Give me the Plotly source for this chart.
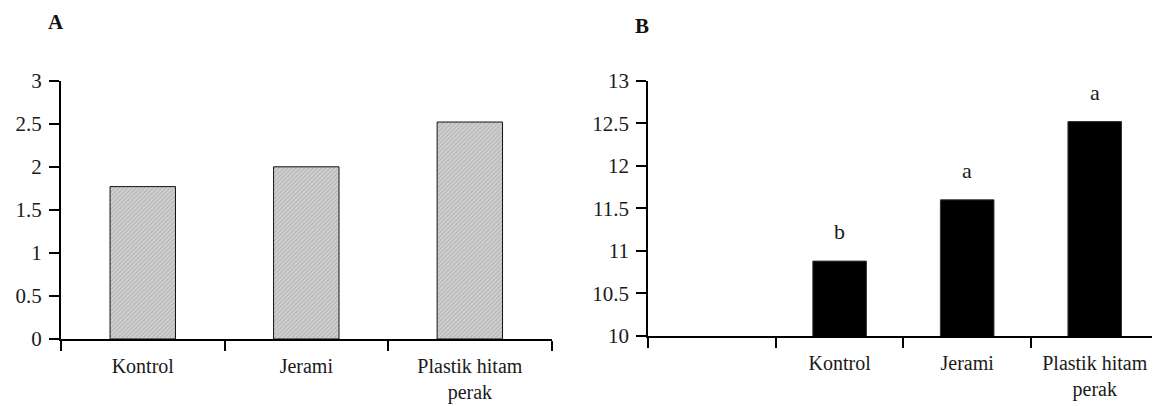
import plotly.graph_objects as go

# ---- data ----
cats_a = ["Kontrol", "Jerami", "Plastik hitam<br>perak"]
vals_a = [1.77, 2.0, 2.52]

cats_b = [" ", "Kontrol", "Jerami", "Plastik hitam<br>perak"]
vals_b = [None, 10.88, 11.6, 12.52]
letters_b = ["", "b", "a", "a"]

yticks_a = [0, 0.5, 1, 1.5, 2, 2.5, 3]
yticks_b = [10, 10.5, 11, 11.5, 12, 12.5, 13]

FONT = "Liberation Serif, Times New Roman, Times, serif"
OFF = 8  # page body margin
W, H = 1160 - OFF, 406 - OFF


def px(x):
    return (x - OFF) / W


def py(y):
    return 1 - (y - OFF) / H


fig = go.Figure()

fig.add_trace(go.Bar(
    x=cats_a, y=vals_a, width=0.40,
    marker=dict(color="#c4c4c4",
                line=dict(color="#111", width=1),
                pattern=dict(shape="/", bgcolor="#d0d0d0", fgcolor="#8c8c8c",
                             size=3, solidity=0.3)),
    xaxis="x", yaxis="y", showlegend=False, hoverinfo="skip"))

fig.add_trace(go.Bar(
    x=cats_b, y=vals_b, width=0.42,
    marker=dict(color="#000000", line=dict(color="#333", width=1)),
    xaxis="x2", yaxis="y2", showlegend=False, hoverinfo="skip"))

axis_common = dict(
    showline=True, linecolor="black", linewidth=2,
    ticks="outside", ticklen=10, tickwidth=2, tickcolor="black",
    showgrid=False, zeroline=False, automargin=False,
)
xfont = dict(family=FONT, size=20, color="#1a1a1a")
yfont = dict(family=FONT, size=21, color="#1a1a1a")

fig.update_layout(
    width=W, height=H,
    margin=dict(l=0, r=0, t=0, b=0, autoexpand=False),
    paper_bgcolor="white", plot_bgcolor="white",
    font=dict(family=FONT, size=20, color="#1a1a1a"),
    xaxis=dict(domain=[px(61), px(551.6)], anchor="y", type="category",
               tickson="boundaries", range=[-0.5, 2.5], tickfont=xfont,
               ticklabelstandoff=8, **axis_common),
    yaxis=dict(domain=[py(339), py(80.7)], anchor="x",
               range=[0, 3], tickvals=yticks_a,
               ticktext=[f"{v:g}" for v in yticks_a], tickfont=yfont,
               ticklabelstandoff=3, **axis_common),
    xaxis2=dict(domain=[px(648.3), px(1158.5)], anchor="y2", type="category",
                tickson="boundaries", range=[-0.5, 3.5],
                categoryorder="array", categoryarray=cats_b, tickfont=xfont,
                ticklabelstandoff=8, **axis_common),
    yaxis2=dict(domain=[py(336), py(80.7)], anchor="x2",
                range=[10, 13], tickvals=yticks_b,
                ticktext=[f"{v:g}" for v in yticks_b], tickfont=yfont,
                ticklabelstandoff=3, **axis_common),
    bargap=0.6,
)

annotations = []
for c, v, t in zip(cats_b, vals_b, letters_b):
    if t and v is not None:
        annotations.append(dict(
            x=c, y=v, xref="x2", yref="y2", text=t, showarrow=False,
            yanchor="bottom", yshift=15,
            font=dict(family=FONT, size=22, color="#1a1a1a")))

annotations.append(dict(x=px(56), y=1, xref="paper", yref="paper",
                        xanchor="center", yanchor="top",
                        text="<b>A</b>", showarrow=False,
                        font=dict(family=FONT, size=21, color="#111")))
annotations.append(dict(x=px(642), y=py(26), xref="paper", yref="paper",
                        xanchor="center", yanchor="middle",
                        text="<b>B</b>", showarrow=False,
                        font=dict(family=FONT, size=21, color="#111")))
fig.update_layout(annotations=annotations)

fig.write_html("out.html")
